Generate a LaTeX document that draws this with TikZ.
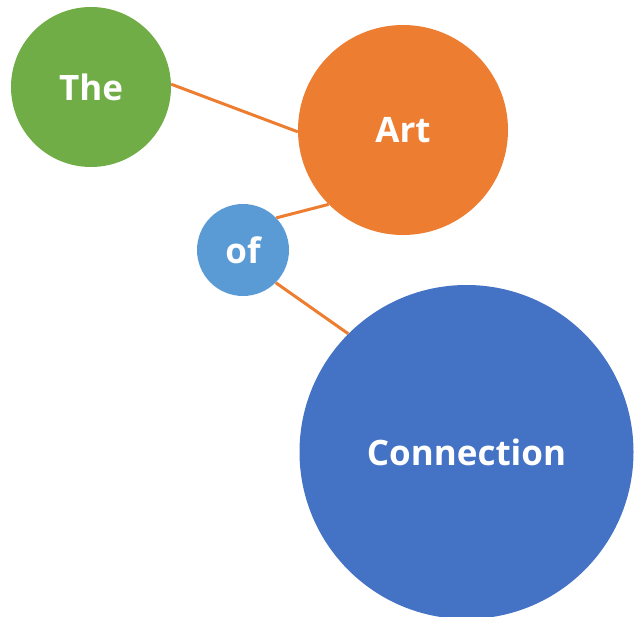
\documentclass[tikz,border=0pt]{standalone}
\usepackage{fontspec}
\setmainfont{Open Sans}
\definecolor{cgreen}{HTML}{70AD47}
\definecolor{corange}{HTML}{ED7D31}
\definecolor{clblue}{HTML}{5B9BD5}
\definecolor{cblue}{HTML}{4472C4}
\tikzset{
  bubble/.style={circle, inner sep=0pt, draw=none, text=white, font=\fontsize{35}{42}\selectfont\bfseries},
  link/.style={draw=corange, line width=3pt}
}
\begin{document}
\begin{tikzpicture}[x=1pt,y=-1pt]
\useasboundingbox (0,0) rectangle (637,617);
\node[bubble, fill=cgreen, minimum size=160pt] (the) at (91,87) {The};
\node[bubble, fill=corange, minimum size=210pt] (art) at (403,130) {Art};
\node[bubble, fill=clblue, minimum size=92pt] (of) at (243,250) {of};
\node[bubble, fill=cblue, minimum size=334pt] (conn) at (466.5,452) {Connection};
\draw[link] (the.2) -- (art.181);
\draw[link] (of.44) -- (art.225);
\draw[link] (of.-45) -- (conn.135);
\end{tikzpicture}
\end{document}
